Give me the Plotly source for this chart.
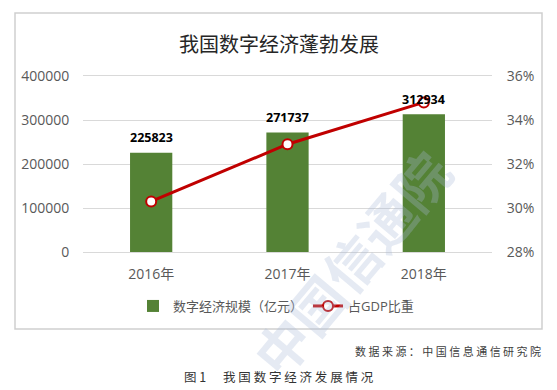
import plotly.graph_objects as go

years = ["2016年", "2017年", "2018年"]
scale_values = [225823, 271737, 312934]
gdp_share = [30.3, 32.9, 34.8]
left_ticks = [0, 100000, 200000, 300000, 400000]
right_ticks = [28, 30, 32, 34, 36]

# page body has an 8px default margin, so the figure is drawn offset by 8px
OFF = 8
W_FIG, H_FIG = 557 - OFF, 390 - OFF
L, R, T, B = 83, 492, 76, 252          # plot area in window pixels
PW, PH = R - L, B - T


def px(x):
    return (x - L) / PW


def py(y):
    return (B - y) / PH


CJK = "Open Sans, Noto Sans CJK SC, sans-serif"
GRID = "#d9d9d9"
TICKC = "#595959"

fig = go.Figure()
fig.add_trace(go.Bar(
    x=years, y=scale_values, name="数字经济规模（亿元）",
    marker=dict(color="#548235", line=dict(width=0)),
    yaxis="y", hoverinfo="x+y",
))
fig.add_trace(go.Scatter(
    x=years, y=gdp_share, name="占GDP比重", yaxis="y2",
    mode="lines+markers",
    line=dict(color="#C00000", width=3),
    marker=dict(symbol="circle", size=10, color="white",
                line=dict(color="#C00000", width=2)),
))

annotations = []
for yr, v in zip(years, scale_values):
    annotations.append(dict(
        x=yr, y=v, xref="x", yref="y", text=f"<b>{v}</b>", showarrow=False,
        yshift=15, yanchor="middle",
        font=dict(family=CJK, size=12.5, color="#000000"),
    ))

# title
annotations.append(dict(
    x=px(278.5), y=py(43), xref="paper", yref="paper", text="我国数字经济蓬勃发展",
    showarrow=False, xanchor="center", yanchor="middle",
    font=dict(family="Noto Sans CJK SC", size=20, color="#262626"),
))
# source
annotations.append(dict(
    x=px(543), y=py(351), xref="paper", yref="paper",
    text=" ".join("数据来源：中国信息通信研究院"),
    showarrow=False, xanchor="right", yanchor="middle",
    font=dict(family="Noto Sans CJK SC", size=11, color="#404040"),
))
# figure caption
annotations.append(dict(
    x=px(279), y=py(376), xref="paper", yref="paper",
    text="图 1      " + " ".join("我国数字经济发展情况"),
    showarrow=False, xanchor="center", yanchor="middle",
    font=dict(family="Noto Sans CJK SC", size=12.5, color="#333333"),
))
# watermark
annotations.append(dict(
    x=px(350), y=py(262), xref="paper", yref="paper", text="<b>中国信通院</b>",
    showarrow=False, xanchor="center", yanchor="middle", textangle=-50,
    font=dict(family="Noto Sans CJK SC", size=54, color="rgba(170,185,215,0.30)"),
))

fig.update_layout(
    width=W_FIG, height=H_FIG,
    margin=dict(l=L - OFF, r=W_FIG - (R - OFF), t=T - OFF, b=H_FIG - (B - OFF), pad=0),
    paper_bgcolor="white", plot_bgcolor="white",
    bargap=0.69,
    showlegend=True,
    legend=dict(orientation="h", x=px(276), xanchor="center", y=py(306), yanchor="middle",
                font=dict(family=CJK, size=13, color=TICKC), itemwidth=30,
                bgcolor="rgba(0,0,0,0)"),
    xaxis=dict(
        showgrid=False, showline=True, mirror=True, linecolor=GRID, linewidth=1,
        ticks="outside", ticklen=9, tickcolor="rgba(0,0,0,0)",
        tickfont=dict(family=CJK, size=14, color=TICKC),
    ),
    yaxis=dict(
        range=[left_ticks[0], left_ticks[-1]], tickvals=left_ticks,
        ticktext=[str(t) for t in left_ticks],
        showgrid=True, gridcolor=GRID, gridwidth=1, zeroline=False,
        ticks="outside", ticklen=10, tickcolor="rgba(0,0,0,0)",
        tickfont=dict(family=CJK, size=14, color=TICKC),
    ),
    yaxis2=dict(
        range=[right_ticks[0], right_ticks[-1]], tickvals=right_ticks,
        ticktext=[f"{t}%" for t in right_ticks],
        overlaying="y", side="right", showgrid=False, zeroline=False,
        ticks="outside", ticklen=11, tickcolor="rgba(0,0,0,0)",
        tickfont=dict(family=CJK, size=14, color=TICKC),
    ),
    shapes=[dict(type="rect", xref="paper", yref="paper",
                 x0=px(15), x1=px(542), y0=py(329), y1=py(13),
                 line=dict(color="#cfcfcf", width=1.5), fillcolor="rgba(0,0,0,0)",
                 layer="above")],
    annotations=annotations,
)

fig.write_html("out.html")
